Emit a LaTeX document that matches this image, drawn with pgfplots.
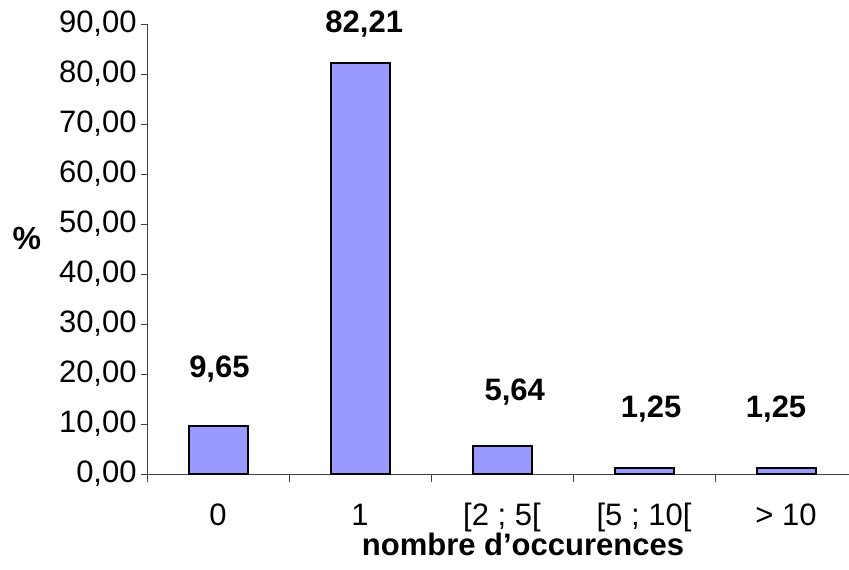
\documentclass[border=0pt]{standalone}
\usepackage{pgfplots}
\pgfplotsset{compat=1.18}
\usepackage{fontspec}
\setmainfont{Liberation Sans}
\definecolor{barfill}{HTML}{9999FF}
\definecolor{axisgray}{HTML}{404040}

\begin{document}
\begin{tikzpicture}
\begin{axis}[
  scale only axis,
  width=351pt, height=225pt,
  xmin=-0.5, xmax=4.4437,
  ymin=0, ymax=90,
  clip=false,
  axis x line=bottom, axis y line=left,
  axis line style={-, draw=axisgray, line width=0.5pt},
  tick align=outside,
  ytick={0,10,...,90},
  xtick={0,1,2,3,4},
  xticklabels={0, 1, {[2 ; 5[}, {[5 ; 10[}, {> 10}},
  minor xtick={-0.5,0.5,1.5,2.5,3.5},
  major x tick style={draw=none},
  minor x tick style={draw=axisgray, line width=0.5pt},
  minor tick length=4pt,
  major tick length=3pt,
  ytick style={draw=axisgray, line width=0.5pt},
  /pgf/number format/.cd, fixed, fixed zerofill, precision=2, use comma, assume math mode=true,
  /pgfplots/.cd,
  tick label style={font=\fontsize{15.5}{18}\selectfont},
  yticklabel style={anchor=east, inner sep=0pt, xshift=-2pt},
  xticklabel style={anchor=base, inner sep=0pt, yshift=-22.5pt},
  xlabel={\textbf{nombre d’occurences}},
  xlabel style={font=\fontsize{15.5}{18}\selectfont, at={(axis description cs:0.5356,0)}, anchor=base, yshift=-40.5pt},
  ylabel={\textbf{\%}},
  ylabel style={font=\fontsize{16}{18}\selectfont, rotate=-90, at={(axis description cs:-0.171,0.524)}, anchor=center},
]
\addplot[ybar, bar width=29.5pt, bar shift=0pt, fill=barfill, draw=black, line width=1pt]
  coordinates {(0,9.65) (1,82.21) (2,5.64) (3,1.25) (4,1.25)};

% value labels above the bars
\begin{scope}[every node/.style={anchor=base, inner sep=0pt, font=\fontsize{15.5}{18}\selectfont\bfseries}]
\node at (axis cs:0.01,19.4) {9,65};
\node at (axis cs:1.03,88.4) {82,21};
\node at (axis cs:2.09,14.8) {5,64};
\node at (axis cs:3.05,11.4) {1,25};
\node at (axis cs:3.93,11.4) {1,25};
\end{scope}
\end{axis}
\pgfresetboundingbox
\path (-73.5pt,-47.5pt) rectangle (351pt,237pt);
\end{tikzpicture}
\end{document}
